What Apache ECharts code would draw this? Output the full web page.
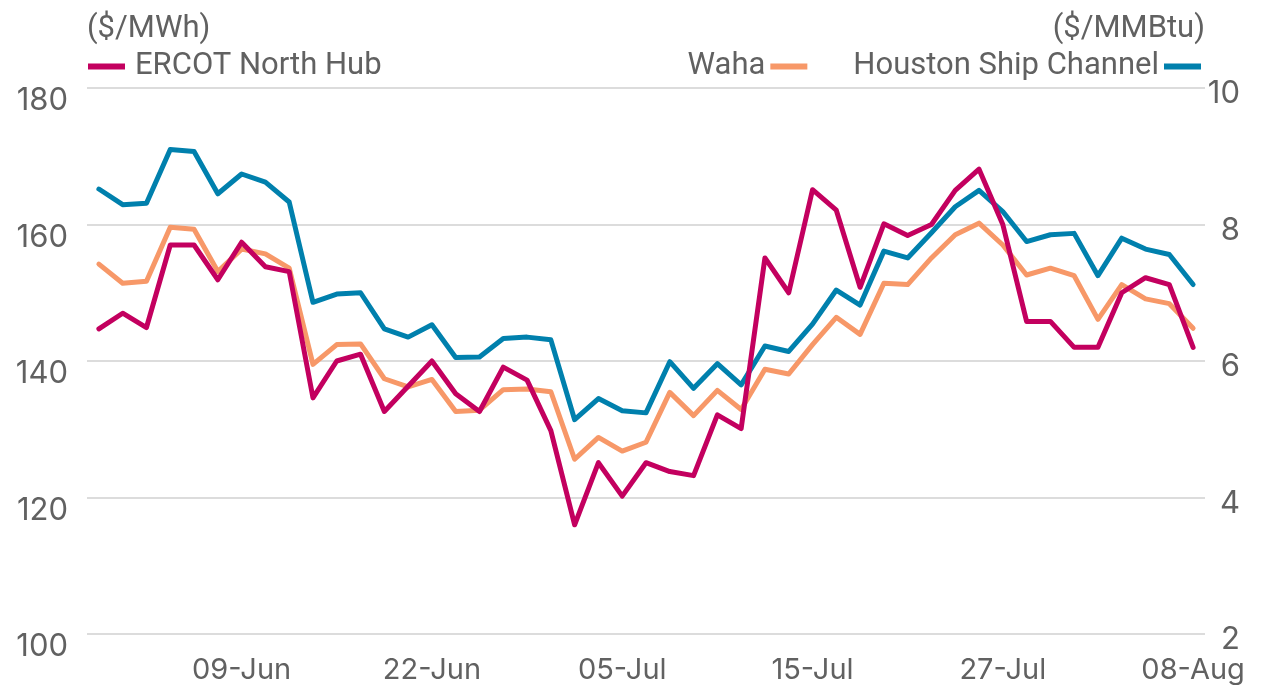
<!DOCTYPE html>
<html>
<head>
<meta charset="utf-8">
<script src="https://cdn.jsdelivr.net/npm/echarts@6/dist/echarts.min.js"></script>
<style>html,body{margin:0;padding:0;background:#fff}#c{width:1266px;height:685px}</style>
</head>
<body>
<div id="c"></div>
<script>
const categories = ["31-May","01-Jun","03-Jun","04-Jun","05-Jun","06-Jun","09-Jun","10-Jun","11-Jun","13-Jun","15-Jun","17-Jun","18-Jun","20-Jun","22-Jun","24-Jun","25-Jun","27-Jun","29-Jun","30-Jun","02-Jul","03-Jul","05-Jul","07-Jul","08-Jul","09-Jul","10-Jul","11-Jul","13-Jul","14-Jul","15-Jul","17-Jul","18-Jul","20-Jul","21-Jul","22-Jul","24-Jul","25-Jul","27-Jul","28-Jul","30-Jul","31-Jul","01-Aug","03-Aug","04-Aug","06-Aug","08-Aug"];
const ercot = [144.7,147.0,144.9,157.0,157.0,151.9,157.4,153.8,153.1,134.6,140.0,141.0,132.6,136.3,140.0,135.2,132.6,139.1,137.2,129.8,116.0,125.1,120.2,125.1,123.8,123.2,132.1,130.1,155.1,150.0,165.1,162.1,150.8,160.1,158.4,160.0,165.0,168.1,160.0,145.8,145.8,142.0,142.0,150.0,152.2,151.2,142.0];
const waha = [7.42,7.14,7.17,7.96,7.93,7.31,7.64,7.57,7.36,5.95,6.24,6.25,5.74,5.62,5.73,5.26,5.28,5.58,5.59,5.55,4.56,4.88,4.68,4.81,5.54,5.20,5.57,5.29,5.88,5.81,6.24,6.64,6.39,7.14,7.12,7.51,7.85,8.02,7.70,7.26,7.36,7.25,6.61,7.12,6.91,6.84,6.48];
const hsc = [8.52,8.29,8.31,9.10,9.07,8.45,8.74,8.62,8.33,6.86,6.98,7.00,6.47,6.35,6.53,6.05,6.06,6.33,6.35,6.31,5.14,5.45,5.27,5.24,5.99,5.60,5.96,5.65,6.22,6.14,6.54,7.04,6.82,7.61,7.51,7.88,8.26,8.50,8.19,7.75,7.85,7.87,7.25,7.80,7.64,7.56,7.12];
const leftTicks = {min:100, max:180, interval:20};
const rightTicks = {min:2, max:10, interval:2};

const FONT = 'Roboto';
const NUMFONT = 'Inter';
const TXT = '#616161';
const C_ERCOT = '#C3005F', C_WAHA = '#F79868', C_HSC = '#0080AD';

const chart = echarts.init(document.getElementById('c'));
const lineStyle = (c) => ({width: 5, color: c, cap: 'round', join: 'round'});
chart.setOption({
  animation: false,
  textStyle: {fontFamily: FONT, color: TXT},
  grid: {left: 87, right: 61, top: 88, bottom: 51},
  legend: [
    {data: [{name:'ERCOT North Hub'}], left: 88, top: 51, padding: 0, icon: 'rect', itemWidth: 37, itemHeight: 6,
     textStyle: {fontFamily: FONT, fontSize: 31, color: TXT, padding: [0,0,0,5]}},
    {data: [{name:'Waha'},{name:'Houston Ship Channel'}], right: 65, top: 51, padding: 0, align: 'right', icon: 'rect',
     itemWidth: 37, itemHeight: 6, itemGap: 46, textStyle: {fontFamily: FONT, fontSize: 31, color: TXT}}
  ],
  xAxis: {
    type: 'category', data: categories, boundaryGap: true,
    axisLine: {show: false}, axisTick: {show: false},
    axisLabel: {interval: (i) => i % 8 === 6, margin: 22, fontSize: 29, color: TXT, fontFamily: NUMFONT}
  },
  yAxis: [
    {type: 'value', min: leftTicks.min, max: leftTicks.max, interval: leftTicks.interval,
     name: '($/MWh)', nameLocation: 'end', nameGap: 43,
     nameTextStyle: {align: 'left', fontSize: 31, color: TXT, fontFamily: FONT},
     axisLine: {show: false}, axisTick: {show: false},
     axisLabel: {margin: 19, formatter: '{a|{value}}', rich: {a: {fontSize: 31, color: TXT, fontFamily: NUMFONT, padding: [26,0,0,0]}}},
     splitLine: {lineStyle: {color: '#dcdcdc', width: 2}}},
    {type: 'value', min: rightTicks.min, max: rightTicks.max, interval: rightTicks.interval, position: 'right',
     name: '($/MMBtu)', nameLocation: 'end', nameGap: 43,
     nameTextStyle: {align: 'right', fontSize: 31, color: TXT, fontFamily: FONT},
     axisLine: {show: false}, axisTick: {show: false},
     axisLabel: {margin: 35, align: 'right', formatter: '{a|{value}}', rich: {a: {fontSize: 31, color: TXT, fontFamily: NUMFONT, padding: [12,0,0,0]}}},
     splitLine: {show: false}}
  ],
  series: [
    {name: 'Houston Ship Channel', type: 'line', yAxisIndex: 1, data: hsc, symbol: 'none', lineStyle: lineStyle(C_HSC), itemStyle: {color: C_HSC}},
    {name: 'Waha', type: 'line', yAxisIndex: 1, data: waha, symbol: 'none', lineStyle: lineStyle(C_WAHA), itemStyle: {color: C_WAHA}},
    {name: 'ERCOT North Hub', type: 'line', yAxisIndex: 0, data: ercot, symbol: 'none', lineStyle: lineStyle(C_ERCOT), itemStyle: {color: C_ERCOT}}
  ]
});
</script>
</body>
</html>
